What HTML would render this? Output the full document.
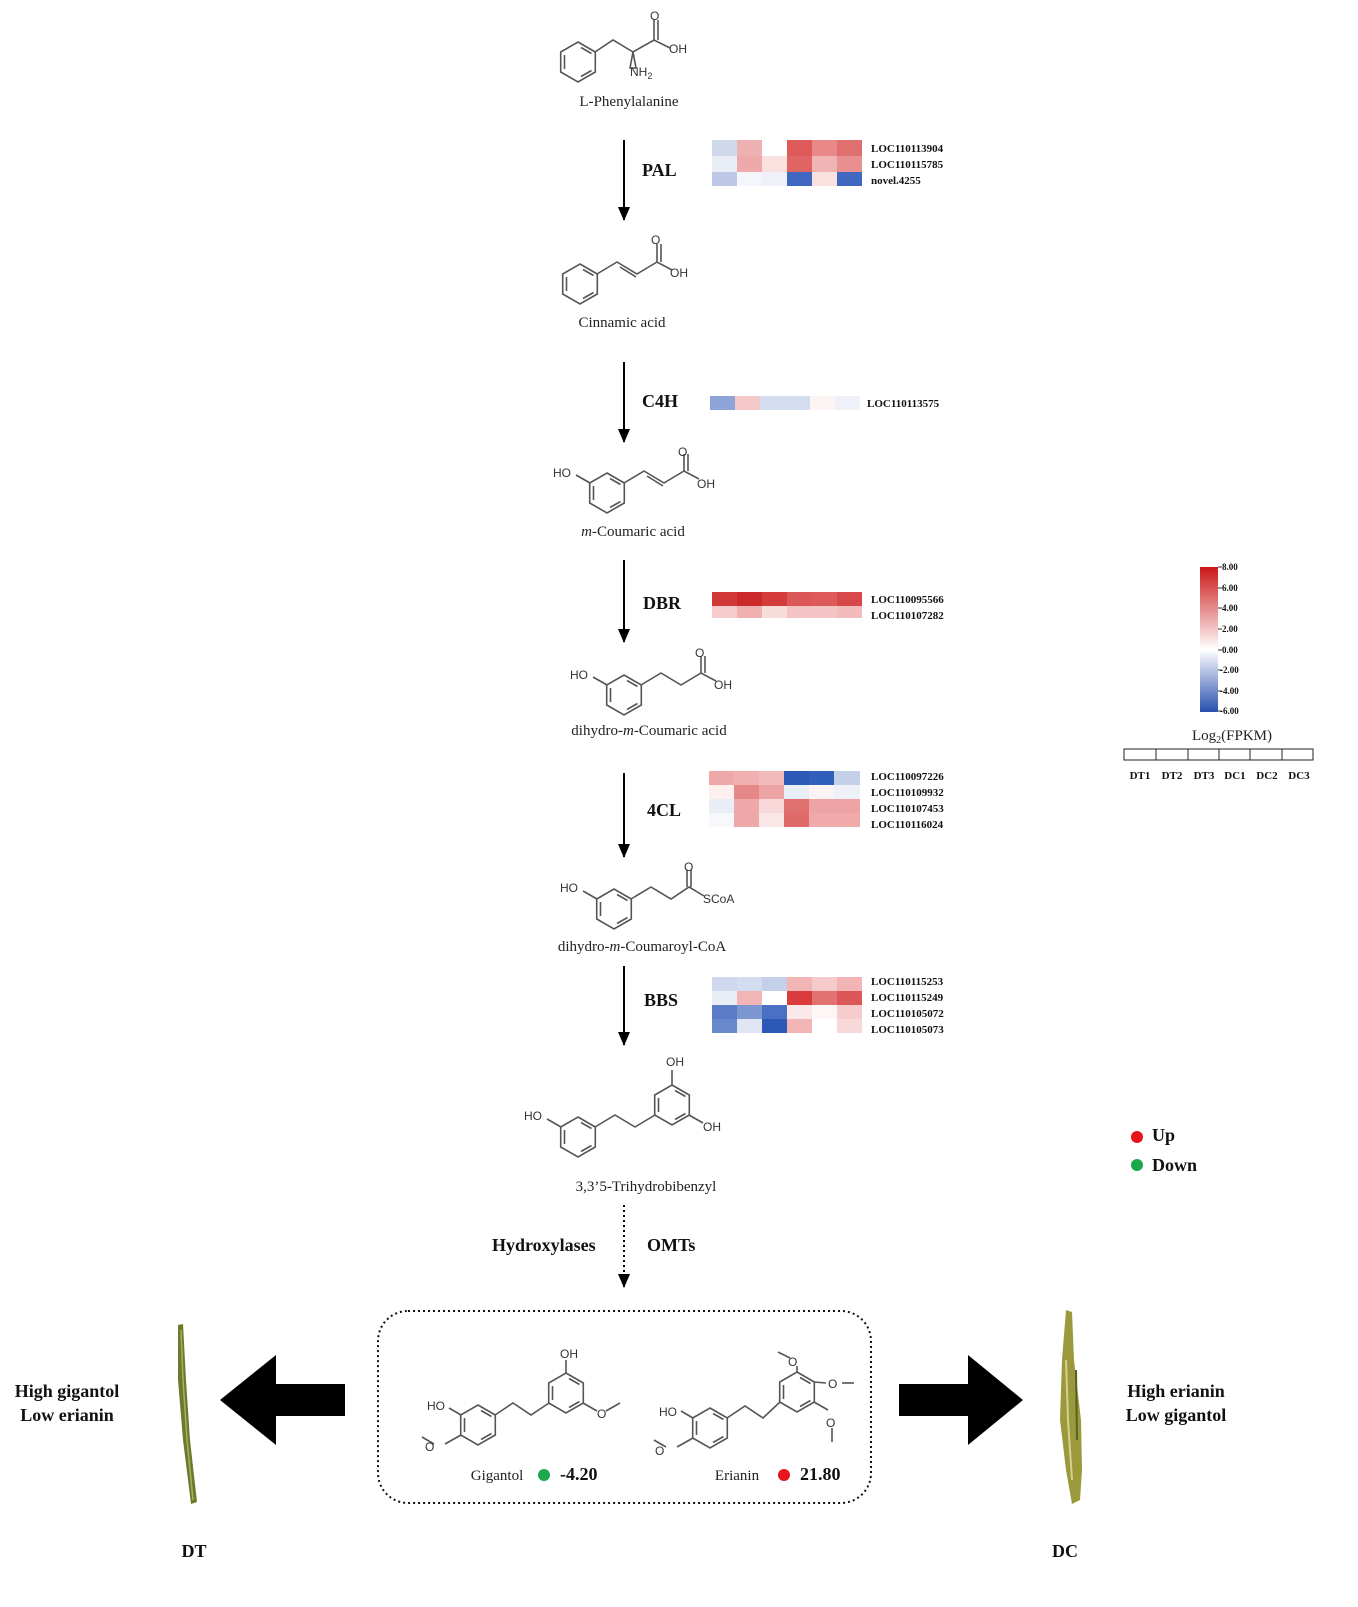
<!DOCTYPE html>
<html><head><meta charset="utf-8"><style>
body{margin:0;background:#fff}
svg{display:block}
.l{font-family:"Liberation Serif",serif;font-size:15px;fill:#222}
.a{font-family:"Liberation Sans",sans-serif;font-size:12px;fill:#333}
.e{font-family:"Liberation Serif",serif;font-size:18px;font-weight:bold;fill:#111}
.g{font-family:"Liberation Serif",serif;font-size:11px;font-weight:bold;fill:#111}
.t{font-family:"Liberation Serif",serif;font-size:9px;font-weight:bold;fill:#111}
.m path,.m line,.m polyline{stroke:#555;stroke-width:1.6;fill:none}
</style></head><body>
<svg width="1358" height="1607" viewBox="0 0 1358 1607" xmlns="http://www.w3.org/2000/svg">
<defs>
<g id="ring"><path d="M0,-20 L17.3,-10 L17.3,10 L0,20 L-17.3,10 L-17.3,-10 Z" stroke="#555" stroke-width="1.6" fill="none"/>
<path d="M3,-14.5 L13.5,-8.5 M13.5,8.5 L3,14.5 M-13.5,-7 L-13.5,7" stroke="#555" stroke-width="1.6" fill="none"/></g>
<marker id="ah" markerWidth="14" markerHeight="12" refX="13" refY="6" orient="auto" markerUnits="userSpaceOnUse"><path d="M0,0 L14,6 L0,12 Z" fill="#000"/></marker>
<linearGradient id="cb" x1="0" y1="0" x2="0" y2="1"><stop offset="0" stop-color="#cc1818"/><stop offset="0.57" stop-color="#ffffff"/><stop offset="1" stop-color="#2850b0"/></linearGradient>
</defs>

<g class="m">
<use href="#ring" x="578" y="62"/>
<polyline points="595,52 613,40 633,52 654,40 670,48"/><line x1="654" y1="40" x2="654" y2="20"/><line x1="658" y1="40" x2="658" y2="20"/>
<path d="M633,52 L630,68 L636,68 Z" fill="#333"/>
<use href="#ring" x="580" y="284"/>
<polyline points="597,274 617,262 637,274 657,262 672,270"/><line x1="620" y1="267" x2="636" y2="277"/><line x1="657" y1="262" x2="657" y2="244"/><line x1="661" y1="262" x2="661" y2="244"/>
<use href="#ring" x="607" y="493"/>
<polyline points="590,483 576,475"/><polyline points="624,483 644,471 664,483 684,471 699,479"/><line x1="647" y1="476" x2="663" y2="486"/><line x1="684" y1="471" x2="684" y2="454"/><line x1="688" y1="471" x2="688" y2="454"/>
<use href="#ring" x="624" y="695"/>
<polyline points="607,685 593,677"/><polyline points="641,685 661,673 681,685 701,673 716,681"/><line x1="701" y1="673" x2="701" y2="656"/><line x1="705" y1="673" x2="705" y2="656"/>
<use href="#ring" x="614" y="909"/>
<polyline points="597,899 583,891"/><polyline points="631,899 651,887 671,899 689,887 704,896"/><line x1="687" y1="887" x2="687" y2="870"/><line x1="691" y1="887" x2="691" y2="870"/>
<use href="#ring" x="578" y="1137"/>
<polyline points="561,1127 547,1119"/><polyline points="595,1127 615,1115 635,1127 655,1115"/>
<use href="#ring" x="672" y="1105"/>
<line x1="672" y1="1085" x2="672" y2="1070"/><line x1="689" y1="1115" x2="703" y2="1123"/>
<use href="#ring" x="478" y="1425"/>
<polyline points="461,1415 449,1408"/><polyline points="461,1435 445,1444"/><polyline points="434,1444 422,1437"/>
<polyline points="495,1415 513,1403 531,1415 549,1403"/>
<use href="#ring" x="566" y="1393"/>
<line x1="566" y1="1373" x2="566" y2="1360"/><polyline points="583,1403 597,1411"/><polyline points="606,1411 620,1403"/>
<use href="#ring" x="710" y="1428"/>
<polyline points="693,1418 681,1411"/><polyline points="693,1438 677,1447"/><polyline points="666,1447 654,1440"/>
<polyline points="727,1418 745,1406 763,1418 780,1402"/>
<use href="#ring" x="797" y="1392"/>
<polyline points="797,1372 797,1366"/><polyline points="790,1358 778,1352"/>
<polyline points="814,1382 826,1383"/><polyline points="842,1383 854,1383"/>
<polyline points="814,1402 828,1410"/><polyline points="832,1428 832,1442"/>
</g>
<g class="a">
<text x="650" y="20">O</text><text x="669" y="53">OH</text><text x="630" y="76">NH<tspan font-size="9" dy="3">2</tspan></text>
<text x="651" y="244">O</text><text x="670" y="277">OH</text>
<text x="553" y="477">HO</text><text x="678" y="456">O</text><text x="697" y="488">OH</text>
<text x="570" y="679">HO</text><text x="695" y="657">O</text><text x="714" y="689">OH</text>
<text x="560" y="892">HO</text><text x="684" y="871">O</text><text x="703" y="903">SCoA</text>
<text x="524" y="1120">HO</text><text x="666" y="1066">OH</text><text x="703" y="1131">OH</text>
<text x="427" y="1410">HO</text><text x="425" y="1451">O</text><text x="560" y="1358">OH</text><text x="597" y="1418">O</text>
<text x="659" y="1416">HO</text><text x="655" y="1455">O</text><text x="788" y="1366">O</text><text x="828" y="1388">O</text><text x="826" y="1427">O</text>
</g>
<g class="l" text-anchor="middle">
<text x="629" y="106">L-Phenylalanine</text>
<text x="622" y="327">Cinnamic acid</text>
<text x="633" y="536"><tspan font-style="italic">m</tspan>-Coumaric acid</text>
<text x="649" y="735">dihydro-<tspan font-style="italic">m</tspan>-Coumaric acid</text>
<text x="642" y="951">dihydro-<tspan font-style="italic">m</tspan>-Coumaroyl-CoA</text>
<text x="646" y="1191">3,3’5-Trihydrobibenzyl</text>
<text x="497" y="1480">Gigantol</text>
<text x="737" y="1480">Erianin</text>
</g>

<g stroke="#000" stroke-width="2">
<line x1="624" y1="140" x2="624" y2="220" marker-end="url(#ah)"/>
<line x1="624" y1="362" x2="624" y2="442" marker-end="url(#ah)"/>
<line x1="624" y1="560" x2="624" y2="642" marker-end="url(#ah)"/>
<line x1="624" y1="773" x2="624" y2="857" marker-end="url(#ah)"/>
<line x1="624" y1="966" x2="624" y2="1045" marker-end="url(#ah)"/>
<line x1="624" y1="1205" x2="624" y2="1287" stroke-dasharray="2,3" marker-end="url(#ah)"/>
</g>
<g class="e">
<text x="642" y="176">PAL</text><text x="642" y="407">C4H</text><text x="643" y="609">DBR</text><text x="647" y="816">4CL</text><text x="644" y="1006">BBS</text>
<text x="492" y="1251">Hydroxylases</text><text x="647" y="1251">OMTs</text>
</g>

<g>
<rect x="712" y="140" width="25" height="16" fill="#d0d8ec"/><rect x="737" y="140" width="25" height="16" fill="#eeb0b0"/><rect x="762" y="140" width="25" height="16" fill="#fff"/><rect x="787" y="140" width="25" height="16" fill="#de5a5a"/><rect x="812" y="140" width="25" height="16" fill="#e88888"/><rect x="837" y="140" width="25" height="16" fill="#e07070"/>
<rect x="712" y="156" width="25" height="16" fill="#e8edf6"/><rect x="737" y="156" width="25" height="16" fill="#eeaaaa"/><rect x="762" y="156" width="25" height="16" fill="#fbe0e0"/><rect x="787" y="156" width="25" height="16" fill="#e06464"/><rect x="812" y="156" width="25" height="16" fill="#f0b4b4"/><rect x="837" y="156" width="25" height="16" fill="#e89090"/>
<rect x="712" y="172" width="25" height="14" fill="#bcc8e6"/><rect x="737" y="172" width="25" height="14" fill="#f4f6fb"/><rect x="762" y="172" width="25" height="14" fill="#eef1f8"/><rect x="787" y="172" width="25" height="14" fill="#4068c0"/><rect x="812" y="172" width="25" height="14" fill="#fbe0e0"/><rect x="837" y="172" width="25" height="14" fill="#4068c0"/>
<rect x="710" y="396" width="25" height="14" fill="#8ea4d8"/><rect x="735" y="396" width="25" height="14" fill="#f4c8c8"/><rect x="760" y="396" width="25" height="14" fill="#d4dcef"/><rect x="785" y="396" width="25" height="14" fill="#d4dcef"/><rect x="810" y="396" width="25" height="14" fill="#fdf4f4"/><rect x="835" y="396" width="25" height="14" fill="#eef1f8"/>
<rect x="712" y="592" width="25" height="14" fill="#d03838"/><rect x="737" y="592" width="25" height="14" fill="#cc2a2a"/><rect x="762" y="592" width="25" height="14" fill="#d43c3c"/><rect x="787" y="592" width="25" height="14" fill="#dc5858"/><rect x="812" y="592" width="25" height="14" fill="#dc5a5a"/><rect x="837" y="592" width="25" height="14" fill="#d84848"/>
<rect x="712" y="606" width="25" height="12" fill="#f6cccc"/><rect x="737" y="606" width="25" height="12" fill="#f0b0b0"/><rect x="762" y="606" width="25" height="12" fill="#f8dcdc"/><rect x="787" y="606" width="25" height="12" fill="#f4c4c4"/><rect x="812" y="606" width="25" height="12" fill="#f4c4c4"/><rect x="837" y="606" width="25" height="12" fill="#f2bcbc"/>
<rect x="709" y="771" width="25" height="14" fill="#eea8a8"/><rect x="734" y="771" width="25" height="14" fill="#f0b0b0"/><rect x="759" y="771" width="25" height="14" fill="#f2baba"/><rect x="784" y="771" width="25" height="14" fill="#2c58b8"/><rect x="809" y="771" width="25" height="14" fill="#3060bc"/><rect x="834" y="771" width="26" height="14" fill="#c4cfe8"/>
<rect x="709" y="785" width="25" height="14" fill="#fdf0ee"/><rect x="734" y="785" width="25" height="14" fill="#e68888"/><rect x="759" y="785" width="25" height="14" fill="#eda4a4"/><rect x="784" y="785" width="25" height="14" fill="#e8eef7"/><rect x="809" y="785" width="25" height="14" fill="#fcf4f4"/><rect x="834" y="785" width="26" height="14" fill="#eef2f8"/>
<rect x="709" y="799" width="25" height="14" fill="#e8edf6"/><rect x="734" y="799" width="25" height="14" fill="#eea8a8"/><rect x="759" y="799" width="25" height="14" fill="#f8d8d8"/><rect x="784" y="799" width="25" height="14" fill="#e07070"/><rect x="809" y="799" width="25" height="14" fill="#eea4a4"/><rect x="834" y="799" width="26" height="14" fill="#eea4a4"/>
<rect x="709" y="813" width="25" height="14" fill="#f6f8fc"/><rect x="734" y="813" width="25" height="14" fill="#eea8a8"/><rect x="759" y="813" width="25" height="14" fill="#fae6e6"/><rect x="784" y="813" width="25" height="14" fill="#e06a6a"/><rect x="809" y="813" width="25" height="14" fill="#f0aaaa"/><rect x="834" y="813" width="26" height="14" fill="#f0aaaa"/>
<rect x="712" y="977" width="25" height="14" fill="#cfd8ee"/><rect x="737" y="977" width="25" height="14" fill="#d4dcef"/><rect x="762" y="977" width="25" height="14" fill="#c4cfe8"/><rect x="787" y="977" width="25" height="14" fill="#f2b4b4"/><rect x="812" y="977" width="25" height="14" fill="#f6caca"/><rect x="837" y="977" width="25" height="14" fill="#f2b4b4"/>
<rect x="712" y="991" width="25" height="14" fill="#e8edf6"/><rect x="737" y="991" width="25" height="14" fill="#f2b4b4"/><rect x="762" y="991" width="25" height="14" fill="#fff"/><rect x="787" y="991" width="25" height="14" fill="#d83c3c"/><rect x="812" y="991" width="25" height="14" fill="#e27272"/><rect x="837" y="991" width="25" height="14" fill="#dc5858"/>
<rect x="712" y="1005" width="25" height="14" fill="#5a7cc8"/><rect x="737" y="1005" width="25" height="14" fill="#7c96d0"/><rect x="762" y="1005" width="25" height="14" fill="#4a70c4"/><rect x="787" y="1005" width="25" height="14" fill="#fbe8e8"/><rect x="812" y="1005" width="25" height="14" fill="#fdf6f6"/><rect x="837" y="1005" width="25" height="14" fill="#f6cccc"/>
<rect x="712" y="1019" width="25" height="14" fill="#6a88cc"/><rect x="737" y="1019" width="25" height="14" fill="#dfe5f2"/><rect x="762" y="1019" width="25" height="14" fill="#2c58b8"/><rect x="787" y="1019" width="25" height="14" fill="#f2b4b4"/><rect x="812" y="1019" width="25" height="14" fill="#fff"/><rect x="837" y="1019" width="25" height="14" fill="#f8d8d8"/>
</g>
<g class="g">
<text x="871" y="152">LOC110113904</text><text x="871" y="168">LOC110115785</text><text x="871" y="184">novel.4255</text>
<text x="867" y="407">LOC110113575</text>
<text x="871" y="603">LOC110095566</text><text x="871" y="619">LOC110107282</text>
<text x="871" y="780">LOC110097226</text><text x="871" y="796">LOC110109932</text><text x="871" y="812">LOC110107453</text><text x="871" y="828">LOC110116024</text>
<text x="871" y="985">LOC110115253</text><text x="871" y="1001">LOC110115249</text><text x="871" y="1017">LOC110105072</text><text x="871" y="1033">LOC110105073</text>
</g>

<rect x="1200" y="567" width="18" height="145" fill="url(#cb)"/>
<g stroke="#333" stroke-width="1"><line x1="1218" y1="567" x2="1222" y2="567"/><line x1="1218" y1="588" x2="1222" y2="588"/><line x1="1218" y1="608" x2="1222" y2="608"/><line x1="1218" y1="629" x2="1222" y2="629"/><line x1="1218" y1="650" x2="1222" y2="650"/><line x1="1218" y1="670" x2="1222" y2="670"/><line x1="1218" y1="691" x2="1222" y2="691"/><line x1="1218" y1="711" x2="1222" y2="711"/></g>
<g class="t"><text x="1222" y="570">8.00</text><text x="1222" y="591">6.00</text><text x="1222" y="611">4.00</text><text x="1222" y="632">2.00</text><text x="1222" y="653">0.00</text><text x="1220" y="673">-2.00</text><text x="1220" y="694">-4.00</text><text x="1220" y="714">-6.00</text></g>
<text x="1232" y="740" class="l" text-anchor="middle">Log<tspan font-size="10" dy="3">2</tspan><tspan dy="-3">(FPKM)</tspan></text>
<g fill="none" stroke="#222" stroke-width="1"><rect x="1124" y="749" width="189" height="11"/><line x1="1156" y1="749" x2="1156" y2="760"/><line x1="1188" y1="749" x2="1188" y2="760"/><line x1="1219" y1="749" x2="1219" y2="760"/><line x1="1250" y1="749" x2="1250" y2="760"/><line x1="1282" y1="749" x2="1282" y2="760"/></g>
<g class="g" text-anchor="middle"><text x="1140" y="779">DT1</text><text x="1172" y="779">DT2</text><text x="1204" y="779">DT3</text><text x="1235" y="779">DC1</text><text x="1267" y="779">DC2</text><text x="1299" y="779">DC3</text></g>

<circle cx="1137" cy="1137" r="6" fill="#e8141c"/><text x="1152" y="1141" class="e" font-size="15">Up</text>
<circle cx="1137" cy="1165" r="6" fill="#1aa84a"/><text x="1152" y="1171" class="e" font-size="15">Down</text>

<rect x="378" y="1311" width="493" height="192" rx="30" fill="none" stroke="#111" stroke-width="2" stroke-dasharray="2,3"/>
<circle cx="544" cy="1475" r="6" fill="#1aa84a"/><text x="560" y="1480" class="e" font-size="15">-4.20</text>
<circle cx="784" cy="1475" r="6" fill="#e8141c"/><text x="800" y="1480" class="e" font-size="15">21.80</text>

<path d="M345,1384 L276,1384 L276,1355 L220,1400 L276,1445 L276,1416 L345,1416 Z" fill="#000"/>
<path d="M899,1384 L968,1384 L968,1355 L1023,1400 L968,1445 L968,1416 L899,1416 Z" fill="#000"/>

<g class="e" text-anchor="middle">
<text x="67" y="1397">High gigantol</text><text x="67" y="1421">Low erianin</text>
<text x="1176" y="1397">High erianin</text><text x="1176" y="1421">Low gigantol</text>
<text x="194" y="1557">DT</text><text x="1065" y="1557">DC</text>
</g>

<path d="M178,1325 L183,1324 L186,1380 L190,1440 L197,1502 L191,1504 L183,1440 L178,1380 Z" fill="#6b7a2c"/>
<path d="M181,1330 L183,1380 L187,1440 L193,1500" stroke="#a8b060" stroke-width="1.5" fill="none"/>
<path d="M1066,1310 L1072,1312 L1074,1360 L1081,1420 L1082,1470 L1080,1500 L1072,1504 L1066,1470 L1060,1420 L1062,1360 Z" fill="#9a9a3c"/>
<path d="M1066,1360 L1068,1420 L1072,1480" stroke="#d6d090" stroke-width="2" fill="none"/>
<path d="M1076,1370 L1077,1440" stroke="#5a6020" stroke-width="2" fill="none"/>
</svg>
</body></html>
